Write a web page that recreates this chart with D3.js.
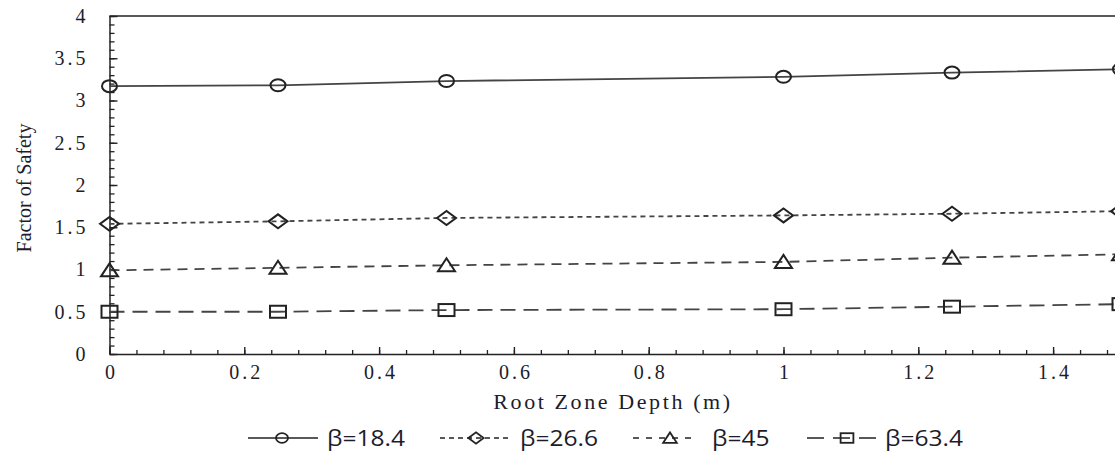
<!DOCTYPE html>
<html>
<head>
<meta charset="utf-8">
<script src="https://cdn.jsdelivr.net/npm/d3@7"></script>
<style>
  body { margin: 0; background: #fff; }
  svg { display: block; }
</style>
</head>
<body>
<div id="chart"></div>
<script>
(function(){
  var width = 1115,
      height = 453;

  // data
  var depths = [0, 0.25, 0.5, 1, 1.25, 1.5];
  var fs184 = [3.17, 3.18, 3.23, 3.28, 3.33, 3.37];
  var fs266 = [1.54, 1.57, 1.61, 1.64, 1.66, 1.69];
  var fs45  = [0.99, 1.02, 1.05, 1.09, 1.14, 1.18];
  var fs634 = [0.50, 0.50, 0.52, 0.53, 0.56, 0.59];
  var seriesNames = ['β=18.4', 'β=26.6', 'β=45', 'β=63.4'];
  var xTicks = [0, 0.2, 0.4, 0.6, 0.8, 1, 1.2, 1.4];
  var yTicks = [0, 0.5, 1, 1.5, 2, 2.5, 3, 3.5, 4];

  var series = [
    { name: seriesNames[0], values: fs184, dash: null,   shape: 'circle' },
    { name: seriesNames[1], values: fs266, dash: '5,4',  shape: 'diamond' },
    { name: seriesNames[2], values: fs45,  dash: '10,7', shape: 'triangle' },
    { name: seriesNames[3], values: fs634, dash: '15,8', shape: 'square' }
  ];

  var svg = d3.select('#chart')
    .append('svg')
    .attr('width', width)
    .attr('height', height);

  var x = d3.scaleLinear().domain([0, 1.5]).range([109.5, 1120.5]);
  var y = d3.scaleLinear().domain([0, 4]).range([354, 16]);

  var serif = '"Liberation Serif", "Times New Roman", serif';
  var ink = '#1c1c2c';

  // top frame line
  svg.append('line')
    .attr('x1', x(0)).attr('x2', width + 10)
    .attr('y1', y(4)).attr('y2', y(4))
    .attr('stroke', '#222').attr('stroke-width', 1.5);

  // minor ticks
  svg.append('g')
    .attr('transform', 'translate(' + x(0) + ',0)')
    .call(d3.axisLeft(y).tickValues(d3.range(0, 40.5, 1).map(function(d){ return d / 10 }))
      .tickSize(-5).tickFormat(''))
    .call(function(g){ g.select('.domain').remove() })
    .selectAll('line').attr('stroke', '#222').attr('stroke-width', 1.3);

  svg.append('g')
    .attr('transform', 'translate(0,' + y(0) + ')')
    .call(d3.axisBottom(x).tickValues(d3.range(0, 39, 1).map(function(d){ return d * 0.04 }))
      .tickSize(-4).tickFormat(''))
    .call(function(g){ g.select('.domain').remove() })
    .selectAll('line').attr('stroke', '#222').attr('stroke-width', 1.3);

  // major axes
  var yAxis = svg.append('g')
    .attr('transform', 'translate(' + x(0) + ',0)')
    .call(d3.axisLeft(y).tickValues(yTicks).tickSize(-8).tickSizeOuter(0).tickPadding(24)
      .tickFormat(function(d){ return d }));
  var xAxis = svg.append('g')
    .attr('transform', 'translate(0,' + y(0) + ')')
    .call(d3.axisBottom(x).tickValues(xTicks).tickSize(-7).tickSizeOuter(0).tickPadding(11)
      .tickFormat(function(d){ return d }));

  [yAxis, xAxis].forEach(function(g){
    g.select('.domain').attr('stroke', '#222').attr('stroke-width', 1.5);
    g.selectAll('.tick line').attr('stroke', '#222').attr('stroke-width', 1.4);
    g.selectAll('.tick text')
      .attr('fill', ink)
      .style('font-family', serif)
      .style('font-size', '20px')
      .style('letter-spacing', '3px');
  });
  // letter-spacing adds space after the last glyph too; pull labels back
  yAxis.selectAll('.tick text').attr('dx', '3px');
  xAxis.selectAll('.tick text').attr('dx', '1.5px');

  // axis titles
  svg.append('text')
    .attr('x', 613).attr('y', 409)
    .attr('text-anchor', 'middle')
    .style('font-family', serif).style('font-size', '22px')
    .style('letter-spacing', '2.6px')
    .attr('fill', ink)
    .text('Root Zone Depth (m)');

  svg.append('text')
    .attr('transform', 'translate(31,188) rotate(-90)')
    .attr('text-anchor', 'middle')
    .style('font-family', serif).style('font-size', '20px')
    .attr('fill', ink)
    .text('Factor of Safety');

  function marker(g, shape, s){
    if(shape === 'circle'){
      g.append('ellipse').attr('rx', 7.5 * s).attr('ry', 6 * s);
    }else if(shape === 'diamond'){
      g.append('path').attr('d', 'M' + (-9.5 * s) + ',0L0,' + (-7 * s) + 'L' + (9.5 * s) + ',0L0,' + (7 * s) + 'Z');
    }else if(shape === 'triangle'){
      g.append('path').attr('d', 'M' + (-8.5 * s) + ',' + (6 * s) + 'L0,' + (-7 * s) + 'L' + (8.5 * s) + ',' + (6 * s) + 'Z');
    }else{
      g.append('rect').attr('x', -8 * s).attr('y', -6 * s).attr('width', 16 * s).attr('height', 12 * s);
    }
  }

  var line = d3.line()
    .x(function(d, i){ return x(depths[i]) })
    .y(function(d){ return y(d) });

  series.forEach(function(s){
    svg.append('path')
      .datum(s.values)
      .attr('d', line)
      .attr('fill', 'none')
      .attr('stroke', '#444')
      .attr('stroke-width', 1.8)
      .attr('stroke-dasharray', s.dash);

    s.values.forEach(function(v, i){
      var g = svg.append('g')
        .attr('transform', 'translate(' + x(depths[i]) + ',' + y(v) + ')')
        .attr('fill', 'none')
        .attr('stroke', '#222')
        .attr('stroke-width', 2);
      marker(g, s.shape, 1);
    });
  });

  // legend
  var legendPos = [
    { x1: 248, x2: 318, mx: 282, tx: 327 },
    { x1: 440, x2: 512, mx: 476, tx: 520 },
    { x1: 633, x2: 697, mx: 670, tx: 712 },
    { x1: 807, x2: 878, mx: 847, tx: 885 }
  ];
  var legendDash = [null, '5,4', '6,7', '17,9'];
  var ly = 438;

  series.forEach(function(s, i){
    var p = legendPos[i];
    svg.append('line')
      .attr('x1', p.x1).attr('x2', p.x2)
      .attr('y1', ly).attr('y2', ly)
      .attr('stroke', '#222').attr('stroke-width', 1.6)
      .attr('stroke-dasharray', legendDash[i]);
    var g = svg.append('g')
      .attr('transform', 'translate(' + p.mx + ',' + ly + ')')
      .attr('fill', 'none')
      .attr('stroke', '#222')
      .attr('stroke-width', 1.8);
    marker(g, s.shape, 0.8);
    svg.append('text')
      .attr('transform', 'translate(' + p.tx + ',' + (ly + 8) + ') scale(1.17,1)')
      .style('font-family', '"Open Sans", sans-serif').style('font-size', '21px')
      .attr('fill', ink)
      .text(s.name);
  });
})()
</script>
</body>
</html>
